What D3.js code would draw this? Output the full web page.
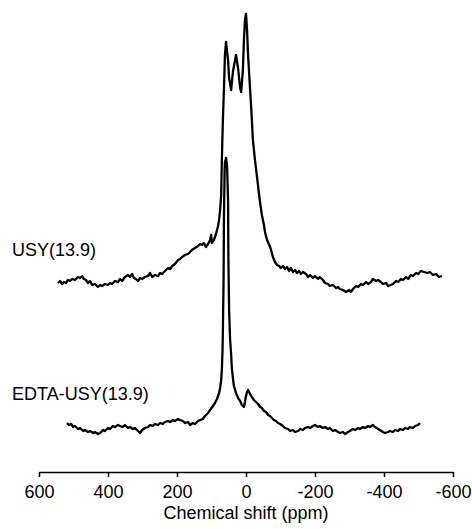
<!DOCTYPE html>
<html>
<head>
<meta charset="utf-8">
<script src="https://cdn.jsdelivr.net/npm/d3@7"></script>
<style>
  body { margin: 0; background: #fff; }
  svg { display: block; font-family: "Liberation Sans", Arial, sans-serif; }
</style>
</head>
<body>
<div id="chart"></div>
<script>
// x ticks (ppm)
var xTicks = [600, 400, 200, 0, -200, -400, -600];

// USY(13.9) spectrum: chemical shift (ppm) and intensity (a.u., above its own baseline)
var usyShift = [545, 539, 533, 528, 522, 516, 510, 504, 496, 487, 481, 475, 470, 464, 458, 452, 446, 438, 429, 423,
  417, 409, 400, 394, 388, 380, 371, 365, 359, 351, 342, 336, 330, 325, 319, 313, 307, 301, 293, 284,
  278, 272, 264, 255, 249, 243, 235, 226, 220, 214, 206, 197, 191, 185, 177, 168, 162, 157, 148, 139,
  133, 127, 122, 116, 110, 104, 101, 99, 93, 87, 81, 78, 75, 72, 70, 67, 64, 61, 58, 52,
  49, 43, 38, 29, 23, 17, 14, 9, 6, 3, 0, -3, -6, -12, -17, -20, -26, -32, -38, -41,
  -46, -52, -55, -61, -70, -75, -78, -84, -90, -96, -101, -107, -113, -119, -125, -130, -136, -142, -148, -154,
  -159, -165, -174, -180, -186, -194, -200, -209, -214, -223, -229, -238, -243, -252, -261, -267, -272, -281, -290, -299,
  -304, -310, -319, -325, -333, -339, -348, -354, -362, -368, -377, -383, -391, -397, -406, -412, -420, -426, -435, -441,
  -449, -455, -464, -470, -478, -484, -493, -499, -507, -516, -525, -533, -542, -551, -559, -568];
var usyIntensity = [-1, 1, -2, 0, -1, 2, 1, 3, 2, 5, 4, 6, 3, 2, -1, 1, -3, -2, -5, -3,
  -4, -2, -3, -1, -2, 1, 0, 3, 1, 5, 7, 5, 8, 4, 3, 1, 4, 3, 5, 6,
  9, 5, 7, 6, 9, 8, 11, 14, 13, 16, 18, 22, 23, 25, 27, 28, 30, 32, 34, 36,
  38, 37, 39, 35, 38, 42, 47, 39, 42, 48, 56, 62, 72, 87, 122, 162, 192, 227, 240, 222,
  204, 192, 210, 227, 214, 194, 190, 212, 242, 262, 268, 252, 227, 192, 162, 142, 122, 105, 87, 79,
  67, 57, 50, 42, 35, 29, 25, 20, 17, 16, 14, 16, 13, 15, 11, 14, 10, 12, 9, 11,
  8, 10, 8, 5, 7, 4, 6, 3, 5, 2, -1, -2, -4, -3, -6, -5, -7, -8, -10, -8,
  -10, -7, -4, -5, -2, -3, 0, -2, 0, 3, 1, 2, 0, -2, -1, -4, -3, -2, 1, 0,
  3, 2, 5, 3, 7, 6, 9, 8, 11, 10, 9, 10, 7, 8, 5, 6];

// EDTA-USY(13.9) spectrum
var edtaShift = [519, 513, 507, 501, 496, 487, 481, 472, 467, 458, 452, 443, 438, 429, 423, 414, 409, 400, 394, 386,
  380, 371, 365, 357, 351, 342, 336, 328, 322, 313, 307, 301, 293, 284, 278, 270, 264, 255, 249, 241,
  235, 226, 220, 212, 206, 197, 191, 183, 177, 168, 162, 154, 148, 139, 133, 125, 119, 110, 104, 96,
  90, 84, 78, 75, 72, 70, 68, 67, 65, 64, 62, 61, 59, 58, 55, 52, 51, 49, 46, 43,
  41, 38, 35, 29, 23, 17, 12, 6, 3, 0, -3, -6, -12, -17, -23, -29, -35, -41, -46, -52,
  -58, -64, -70, -75, -81, -87, -93, -99, -107, -113, -122, -128, -136, -142, -151, -157, -165, -171, -180, -186,
  -194, -200, -209, -214, -223, -229, -238, -243, -252, -258, -267, -272, -281, -287, -296, -301, -310, -316, -325, -330,
  -339, -345, -354, -359, -368, -374, -383, -388, -397, -403, -412, -417, -426, -432, -441, -446, -455, -461, -470, -475,
  -484, -490, -499, -504];
var edtaIntensity = [5, 3, 4, 1, 2, -1, 0, -3, -2, -4, -3, -5, -4, -6, -5, -2, -3, 0, -1, 2,
  1, 3, 2, 1, 3, 0, 1, -1, 0, -3, -5, -2, 0, 1, 3, 2, 4, 3, 5, 4,
  6, 7, 6, 8, 7, 9, 8, 7, 5, 6, 3, 5, 4, 7, 8, 9, 12, 15, 18, 22,
  25, 29, 35, 40, 48, 58, 78, 98, 148, 208, 258, 266, 268, 270, 263, 228, 168, 118, 88, 73,
  60, 50, 42, 35, 30, 27, 23, 21, 26, 32, 36, 38, 34, 31, 28, 26, 24, 21, 20, 17,
  16, 13, 12, 10, 8, 7, 5, 4, 2, 0, -1, -3, -2, -4, -3, -1, -2, 0, 1, 0,
  2, 3, 1, 2, 0, 1, -1, 0, -3, -2, -4, -5, -4, -6, -4, -3, -1, -2, 0, -1,
  1, 0, 2, 1, 3, 1, -1, -2, -4, -5, -4, -3, -4, -2, -3, -1, -2, 0, -1, 1,
  0, 2, 3, 5];

// vertical stacking offsets of the two traces
var usyOffset = 190;
var edtaOffset = 44;

var width = 472, height = 529;

var svg = d3.select("#chart")
    .append("svg")
    .attr("width", width)
    .attr("height", height);

var xScale = d3.scaleLinear()
    .domain([600, -600])
    .range([39, 453]);

var yScale = d3.scaleLinear()
    .domain([0, 460])
    .range([472, 12]);

// x axis
var xAxis = svg.append("g")
    .attr("transform", "translate(0,472)")
    .call(d3.axisBottom(xScale)
        .tickValues(xTicks)
        .tickSizeInner(5)
        .tickSizeOuter(0)
        .tickPadding(8)
        .tickFormat(d3.format("d")));

xAxis.select(".domain").attr("stroke", "#000").attr("stroke-width", 1.5);
xAxis.selectAll(".tick line").attr("stroke", "#000").attr("stroke-width", 1.5);
xAxis.selectAll(".tick text")
    .style("font-size", "18px")
    .style("font-family", "'Liberation Sans', Arial, sans-serif")
    .attr("fill", "#000")
    .text(function (d) { return String(d); });

// axis title
svg.append("text")
    .attr("x", xScale(0))
    .attr("y", 519)
    .attr("text-anchor", "middle")
    .style("font-size", "18px")
    .text("Chemical shift (ppm)");

var line = d3.line()
    .x(function (d) { return xScale(d[0]); })
    .y(function (d) { return yScale(d[1]); });

function traceData(shift, intensity, offset) {
    return shift.map(function (s, i) { return [s, intensity[i] + offset]; });
}

// spectra
svg.append("path")
    .datum(traceData(edtaShift, edtaIntensity, edtaOffset))
    .attr("d", line)
    .attr("fill", "none")
    .attr("stroke", "#000")
    .attr("stroke-width", 2.3)
    .attr("stroke-linejoin", "round");

svg.append("path")
    .datum(traceData(usyShift, usyIntensity, usyOffset))
    .attr("d", line)
    .attr("fill", "none")
    .attr("stroke", "#000")
    .attr("stroke-width", 2.3)
    .attr("stroke-linejoin", "round");

// trace labels
svg.append("text")
    .attr("x", 12)
    .attr("y", 256)
    .style("font-size", "18px")
    .text("USY(13.9)");

svg.append("text")
    .attr("x", 12)
    .attr("y", 400)
    .style("font-size", "18px")
    .text("EDTA-USY(13.9)");
</script>
</body>
</html>
